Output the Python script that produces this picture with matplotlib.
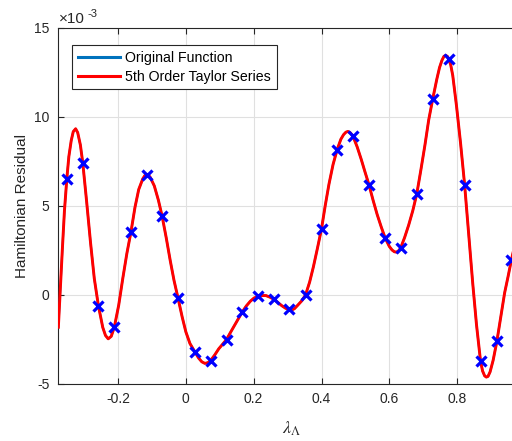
import matplotlib
matplotlib.use("Agg")
import matplotlib.pyplot as plt

# ---- data (residual values in units of 1e-3) ----
curve_x = [-0.376, -0.370, -0.364, -0.358, -0.351, -0.345, -0.338, -0.332, -0.325, -0.319,
           -0.311, -0.304, -0.293, -0.281, -0.270, -0.258, -0.245, -0.237, -0.229, -0.220,
           -0.211, -0.198, -0.186, -0.174, -0.162, -0.150, -0.139, -0.127, -0.121, -0.116,
           -0.110, -0.105, -0.093, -0.081, -0.070, -0.058, -0.046, -0.035, -0.023, -0.011,
           0.000, 0.012, 0.027, 0.038, 0.047, 0.056, 0.065, 0.073, 0.085, 0.097,
           0.108, 0.120, 0.131, 0.143, 0.155, 0.166, 0.178, 0.190, 0.201, 0.213,
           0.225, 0.236, 0.248, 0.260, 0.271, 0.283, 0.294, 0.304, 0.311, 0.320,
           0.330, 0.342, 0.353, 0.365, 0.376, 0.388, 0.400, 0.411, 0.422, 0.434,
           0.446, 0.457, 0.465, 0.472, 0.478, 0.485, 0.493, 0.505, 0.517, 0.528,
           0.540, 0.552, 0.564, 0.576, 0.588, 0.600, 0.608, 0.615, 0.621, 0.627,
           0.633, 0.645, 0.657, 0.669, 0.681, 0.693, 0.705, 0.716, 0.728, 0.740,
           0.748, 0.755, 0.761, 0.766, 0.771, 0.775, 0.781, 0.787, 0.798, 0.810,
           0.822, 0.834, 0.846, 0.857, 0.869, 0.875, 0.881, 0.886, 0.891, 0.897,
           0.906, 0.917, 0.929, 0.940, 0.950, 0.960, 0.975]
curve_y = [-1.84, 0.4, 2.6, 4.7, 6.5, 7.75, 8.65, 9.15, 9.31, 9.1,
           8.4, 7.40, 5.3, 2.9, 0.9, -0.62, -1.85, -2.3, -2.49, -2.35,
           -1.84, -0.6, 0.9, 2.3, 3.5, 4.9, 5.9, 6.5, 6.68, 6.74,
           6.7, 6.58, 6.1, 5.3, 4.4, 3.2, 1.9, 0.8, -0.21, -1.25,
           -2.1, -2.75, -3.24, -3.58, -3.78, -3.87, -3.83, -3.71, -3.4, -3.05,
           -2.8, -2.53, -2.15, -1.75, -1.35, -0.99, -0.65, -0.38, -0.2, -0.11,
           -0.06, -0.06, -0.15, -0.28, -0.45, -0.63, -0.77, -0.84, -0.88, -0.8,
           -0.6, -0.35, -0.02, 0.7, 1.55, 2.6, 3.69, 5.0, 6.2, 7.3,
           8.13, 8.72, 8.98, 9.12, 9.16, 9.08, 8.88, 8.3, 7.6, 6.9,
           6.16, 5.3, 4.5, 3.8, 3.16, 2.7, 2.5, 2.4, 2.38, 2.45,
           2.6, 3.2, 3.9, 4.7, 5.66, 7.0, 8.4, 9.8, 10.99, 12.1,
           12.75, 13.15, 13.38, 13.43, 13.38, 13.24, 12.9, 12.3, 10.6, 8.5,
           6.16, 3.4, 0.6, -1.7, -3.76, -4.3, -4.57, -4.64, -4.6, -4.35,
           -3.7, -2.64, -1.2, 0.1, 1.0, 1.95, 3.2]

sample_x = [-0.351, -0.304, -0.258, -0.211, -0.162, -0.116, -0.070, -0.023, 0.027, 0.073,
            0.120, 0.166, 0.213, 0.260, 0.304, 0.353, 0.400, 0.446, 0.493, 0.540,
            0.588, 0.633, 0.681, 0.728, 0.775, 0.822, 0.869, 0.917, 0.960]
sample_y = [6.5, 7.40, -0.62, -1.84, 3.5, 6.74, 4.4, -0.21, -3.24, -3.71,
            -2.53, -0.99, -0.11, -0.28, -0.84, -0.02, 3.69, 8.13, 8.88, 6.16,
            3.16, 2.6, 5.66, 10.99, 13.24, 6.16, -3.76, -2.64, 1.95]

x_ticks = [-0.2, 0, 0.2, 0.4, 0.6, 0.8]
x_tick_labels = ["-0.2", "0", "0.2", "0.4", "0.6", "0.8"]
y_ticks = [-5, 0, 5, 10, 15]
y_tick_labels = ["-5", "0", "5", "10", "15"]
legend_labels = ["Original Function", "5th Order Taylor Series"]

plt.rcParams['font.family'] = ['Liberation Sans', 'DejaVu Sans']
plt.rcParams['mathtext.fontset'] = 'stix'

fig = plt.figure(figsize=(5.12, 4.41), dpi=100)
ax = fig.add_axes([58/512, (441-383.5)/441, 467/512, 356/441])

dark = '#262626'
blue = '#0072BD'
l1, = ax.plot(curve_x, curve_y, color=blue, lw=1.5, zorder=3)
l2, = ax.plot(curve_x, curve_y, color='#FF0000', lw=2.1, zorder=4,
              solid_joinstyle='round')
ax.plot(sample_x, sample_y, linestyle='none', marker='x', color='#0000FF',
        markersize=6.5, markeredgewidth=2.3, zorder=5)

ax.set_xlim(-0.377, 1.0)
ax.set_ylim(-5, 15)
ax.set_xticks(x_ticks)
ax.set_xticklabels(x_tick_labels)
ax.set_yticks(y_ticks)
ax.set_yticklabels(y_tick_labels)
ax.grid(True, color='#e0e0e0', lw=0.8)
ax.set_axisbelow(True)
ax.tick_params(direction='in', length=4, width=0.8, colors=dark, labelsize=10,
               top=True, right=True, labelcolor=dark, pad=6)
for s in ax.spines.values():
    s.set_color(dark)
    s.set_linewidth(0.8)

ax.set_ylabel("Hamiltonian Residual", fontsize=11, color=dark, labelpad=4)
ax.set_xlabel(r"$\lambda_\Lambda$", fontsize=13, color=dark, labelpad=10)

# axis multiplier
fig.text(59/512, 1 - 19/441, "\u00d710", fontsize=11, color=dark,
         ha='left', va='center')
fig.text(88/512, 1 - 14/441, "-3", fontsize=8, color=dark,
         ha='left', va='center')

leg = ax.legend([l1, l2], legend_labels, loc='upper left',
                bbox_to_anchor=(72/512, 1 - 45/441), bbox_transform=fig.transFigure,
                fancybox=False, framealpha=1, edgecolor=dark, fontsize=10.2,
                handlelength=3.0, handletextpad=0.35, borderpad=0.4, labelspacing=0.36,
                borderaxespad=0)
leg.get_frame().set_linewidth(0.8)
for line in leg.get_lines():
    line.set_linewidth(2.2)

fig.savefig("out.png", dpi=100)
